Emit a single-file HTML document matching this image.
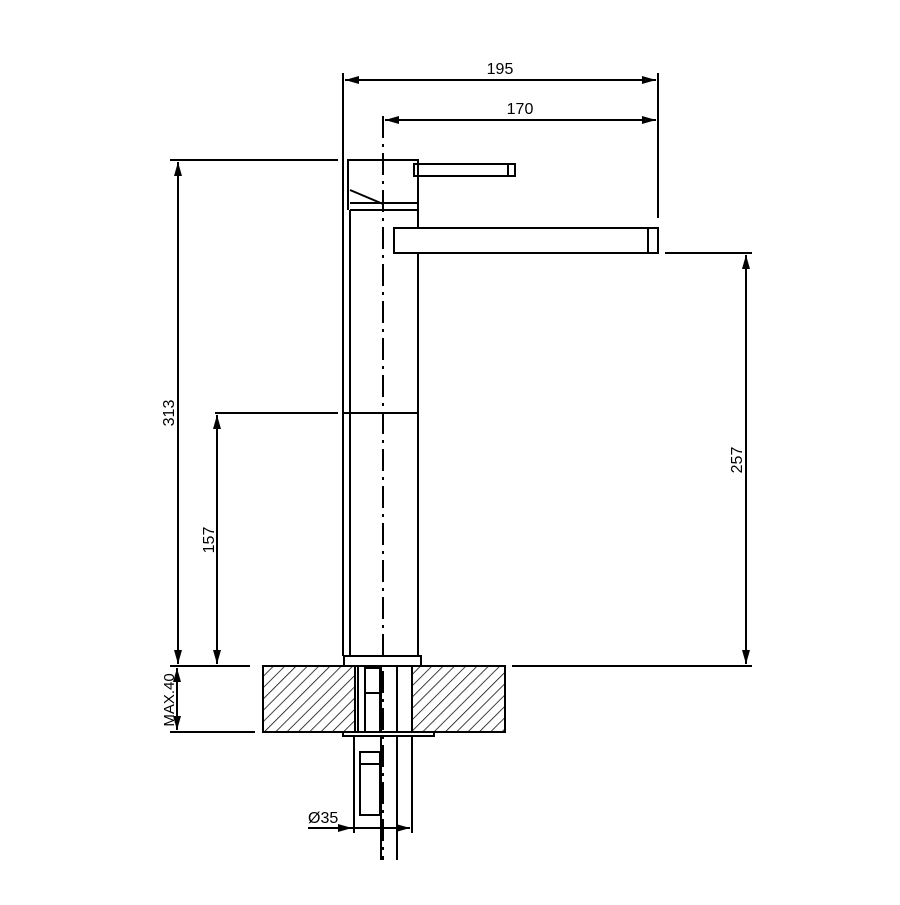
<!DOCTYPE html>
<html><head><style>html,body{margin:0;padding:0;background:#fff}</style></head>
<body>
<svg width="900" height="900" viewBox="0 0 900 900" xmlns="http://www.w3.org/2000/svg" font-family="'Liberation Sans',sans-serif" font-size="16" fill="none" stroke="#000" stroke-width="2">
<defs>
<pattern id="h" width="8" height="8" patternUnits="userSpaceOnUse" patternTransform="rotate(45)">
<line x1="0" y1="0" x2="0" y2="8" stroke="#000" stroke-width="1.5"/>
</pattern>
<marker id="a" markerWidth="14" markerHeight="8" refX="14" refY="4" orient="auto" markerUnits="userSpaceOnUse">
<path d="M0,0 L14,4 L0,8 z" fill="#000" stroke="none"/>
</marker>
</defs>
<line x1="343" y1="73" x2="343" y2="160"/>
<line x1="658" y1="73" x2="658" y2="218"/>
<line x1="650" y1="80" x2="345" y2="80" marker-end="url(#a)"/>
<line x1="345" y1="80" x2="656" y2="80" marker-end="url(#a)"/>
<text x="500" y="74" fill="#000" stroke="none" text-anchor="middle">195</text>
<line x1="385" y1="120" x2="656" y2="120" marker-end="url(#a)"/>
<line x1="650" y1="120" x2="385" y2="120" marker-end="url(#a)"/>
<text x="520" y="114" fill="#000" stroke="none" text-anchor="middle">170</text>
<line x1="383" y1="116" x2="383" y2="860" stroke-dasharray="22,6,3,6"/>
<path d="M348,210 L348,160 L418,160 L418,210"/>
<path d="M350,190 L383,204"/>
<line x1="350" y1="203" x2="418" y2="203"/>
<line x1="350" y1="210" x2="418" y2="210"/>
<rect x="414" y="164" width="101" height="12"/>
<line x1="508" y1="164" x2="508" y2="176"/>
<line x1="343" y1="160" x2="343" y2="656"/>
<line x1="350" y1="210" x2="350" y2="656"/>
<line x1="418" y1="210" x2="418" y2="656"/>
<line x1="343" y1="413" x2="418" y2="413"/>
<rect x="394" y="228" width="264" height="25" fill="#fff"/>
<line x1="648" y1="228" x2="648" y2="253"/>
<rect x="344" y="656" width="77" height="10" fill="#fff"/>
<rect x="263" y="666" width="92" height="66" fill="url(#h)"/>
<rect x="412" y="666" width="93" height="66" fill="url(#h)"/>
<line x1="358" y1="666" x2="358" y2="732"/>
<rect x="365" y="668" width="15" height="25"/>
<rect x="365" y="693" width="15" height="39"/>
<line x1="397" y1="666" x2="397" y2="860"/>
<line x1="381" y1="666" x2="381" y2="860"/>
<rect x="343" y="732" width="91" height="4" fill="#fff"/>
<line x1="354" y1="736" x2="354" y2="833"/>
<line x1="412" y1="736" x2="412" y2="833"/>
<rect x="360" y="752" width="20" height="63"/>
<line x1="360" y1="764" x2="380" y2="764"/>
<line x1="308" y1="828" x2="352" y2="828" marker-end="url(#a)"/>
<line x1="352" y1="828" x2="410" y2="828" marker-end="url(#a)"/>
<text x="308" y="823" fill="#000" stroke="none">Ø35</text>
<line x1="170" y1="160" x2="338" y2="160"/>
<line x1="215" y1="413" x2="338" y2="413"/>
<line x1="665" y1="253" x2="752" y2="253"/>
<line x1="170" y1="666" x2="250" y2="666"/>
<line x1="512" y1="666" x2="752" y2="666"/>
<line x1="170" y1="732" x2="255" y2="732"/>
<line x1="178" y1="664" x2="178" y2="162" marker-end="url(#a)"/>
<line x1="178" y1="162" x2="178" y2="664" marker-end="url(#a)"/>
<text transform="translate(174,413) rotate(-90)" fill="#000" stroke="none" text-anchor="middle">313</text>
<line x1="217" y1="664" x2="217" y2="415" marker-end="url(#a)"/>
<line x1="217" y1="415" x2="217" y2="664" marker-end="url(#a)"/>
<text transform="translate(214,540) rotate(-90)" fill="#000" stroke="none" text-anchor="middle">157</text>
<line x1="746" y1="664" x2="746" y2="255" marker-end="url(#a)"/>
<line x1="746" y1="255" x2="746" y2="664" marker-end="url(#a)"/>
<text transform="translate(742,460) rotate(-90)" fill="#000" stroke="none" text-anchor="middle">257</text>
<line x1="177" y1="680" x2="177" y2="668" marker-end="url(#a)"/>
<line x1="177" y1="718" x2="177" y2="730" marker-end="url(#a)"/>
<line x1="177" y1="668" x2="177" y2="730"/>
<text transform="translate(174,700) rotate(-90)" fill="#000" stroke="none" text-anchor="middle" font-size="15">MAX.40</text>
</svg>
</body></html>
